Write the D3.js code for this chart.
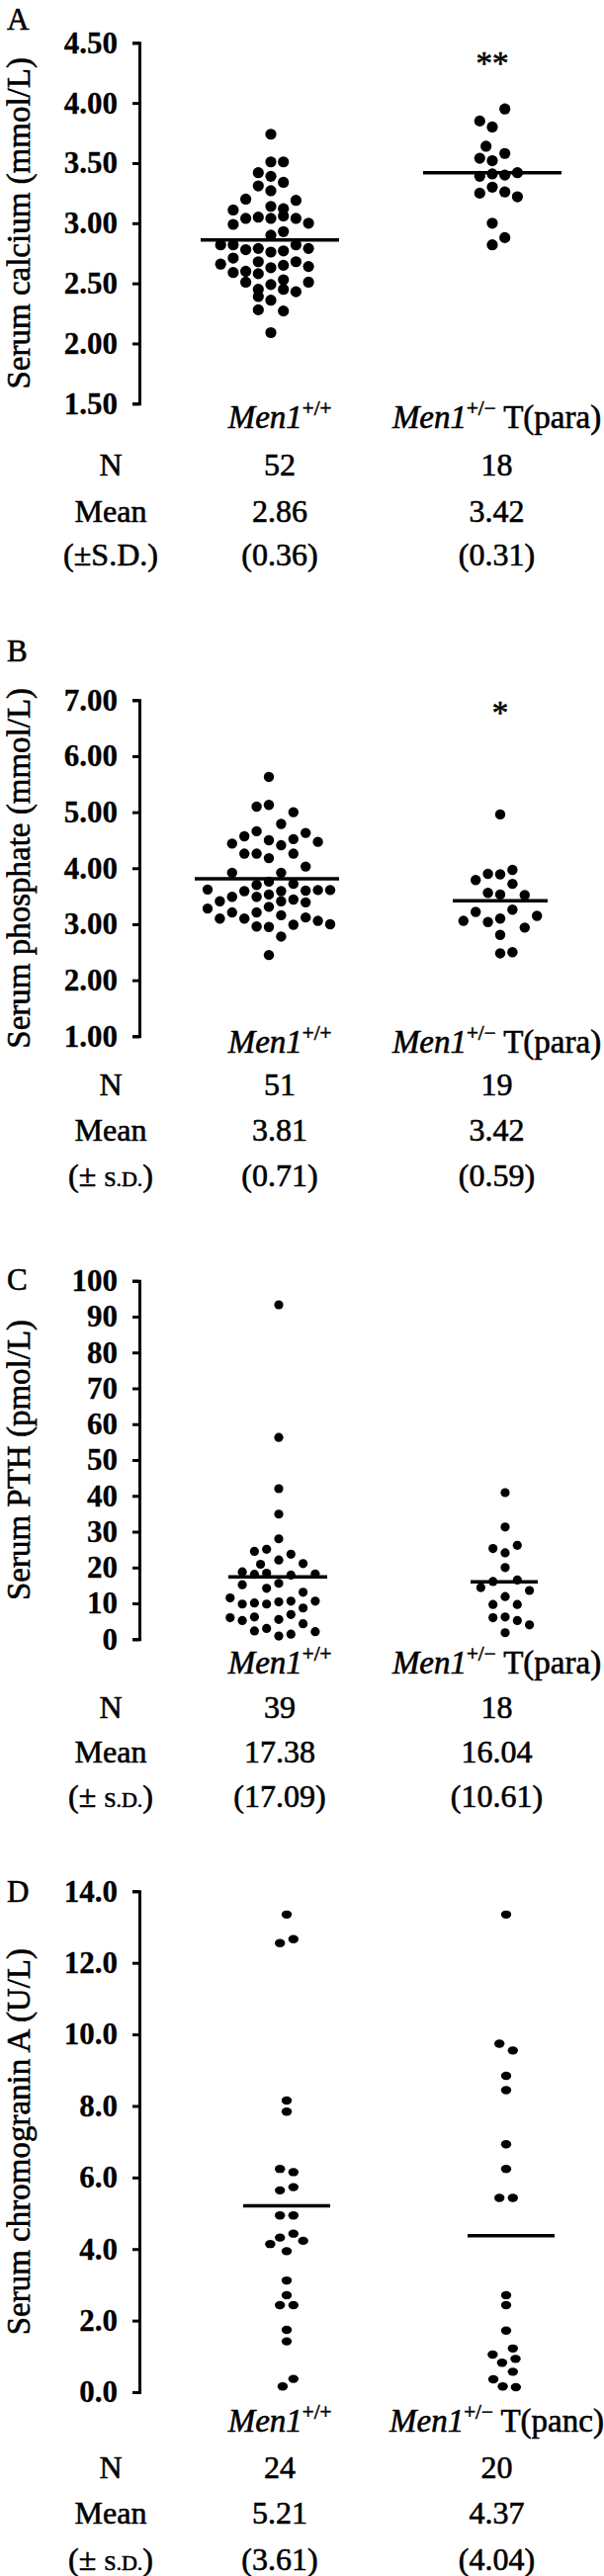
<!DOCTYPE html>
<html>
<head>
<meta charset="utf-8">
<script src="https://cdn.jsdelivr.net/npm/d3@7"></script>
<style>
  body { margin: 0; background: #fff; }
  svg text { font-family: "Liberation Serif", "Times New Roman", serif; fill: #000; stroke: #000; stroke-width: 0.6px; }
</style>
</head>
<body>
<script>
// each point: [value, lane in the dot swarm]
var calciumWT = [
  [3.74,0],[3.51,0],[3.51,1],[3.42,-1],[3.39,0],[3.34,1],[3.31,-1],[3.27,0],
  [3.20,-2],[3.19,2],[3.14,0],[3.12,1],[3.11,-3],
  [3.04,-2],[3.05,-1],[3.04,0],[3.06,1],[3.04,2],[2.99,-3],[3.00,3],
  [2.93,1],[2.90,0],
  [2.82,-4],[2.82,-3],[2.82,2],[2.78,-2],[2.79,-1],[2.77,1],[2.79,3],[2.76,0],
  [2.71,-3],[2.68,-1],[2.68,2],[2.66,-4],[2.63,0],[2.65,1],[2.64,3],
  [2.59,-3],[2.60,-2],[2.58,-1],[2.53,1],[2.51,3],[2.51,-2],[2.49,0],
  [2.45,-1],[2.45,1],[2.43,2],[2.39,-1],[2.36,0],[2.28,-1],[2.27,1],[2.09,0]
];
var calciumHet = [
  [3.95,1],[3.85,-1],[3.80,0],[3.64,-0.5],[3.58,1],[3.54,-1],[3.52,0],[3.39,-1],[3.41,0],
  [3.40,1],[3.42,2],[3.30,0],[3.25,-1],[3.26,1],[3.22,2],[3.00,0],[2.88,1],[2.82,0]
];
var phosphateWT = [
  [5.63,0],[5.10,-1],[5.13,0],[5.00,2],[4.79,1],[4.66,-1],[4.63,3],[4.57,-2],
  [4.50,0],[4.52,2],[4.44,-3],[4.41,1],[4.47,4],[4.26,-2],[4.26,-1],[4.26,2],
  [4.18,0],[4.03,3],[3.92,-3],[3.92,1],[3.76,0],[3.72,2],[3.62,-5],[3.59,-2],
  [3.59,1],[3.60,3],[3.61,4],[3.61,5],[3.53,0],[3.49,-1],[3.49,-3],[3.41,-4],
  [3.41,1],[3.44,2],[3.39,3],[3.28,-5],[3.31,0],[3.21,-1],[3.21,-3],[3.16,1],
  [3.10,-4],[3.10,-2],[3.12,3],[3.06,4],[2.99,2],[3.00,5],[2.96,-1],[2.95,0],
  [2.78,1],[2.45,0],[3.70,-1]
];
var phosphateHet = [
  [4.96,0],[3.97,1],[3.90,-1],[3.89,0],[3.79,-2],[3.72,1],[3.56,-1],[3.53,0],[3.52,2],
  [3.26,1],[3.22,-2],[3.15,3],[3.06,-3],[3.04,-1],[3.10,0],[2.94,2],[2.81,0],[2.48,0],[2.50,1]
];
var pthWT = [
  [93.3,0],[56.3,0],[42.0,0],[34.9,0],[28.0,0],[24.5,-2],[25.1,-1],[23.7,1],
  [22.1,0],[21.1,2],[20.9,-1.5],[18.8,-3],[18.1,-2],[18.4,-1],[17.9,1],[18.2,3],
  [15.6,0],[15.2,-3],[14.2,-1],[13.1,2],[11.5,-4],[10.6,3],[9.8,-3],[10.1,-2],
  [9.8,-1],[10.4,0],[10.6,1],[8.7,2],[6.0,-4],[5.2,-3],[6.2,-2],[6.9,1],
  [5.5,0],[4.3,2],[2.3,-2],[3.0,-1],[2.1,3],[0.9,0],[1.4,1]
];
var pthHet = [
  [40.9,0],[31.3,0],[25.3,-1],[26.2,1],[24.1,0],[20.0,0],[16.1,-1],[16.5,1],[14.4,-2],
  [13.6,2],[11.9,0],[9.7,-1],[9.7,1],[6.0,-1],[6.2,0],[5.2,1],[4.0,2],[1.8,0]
];
var cgaWT = [
  [13.35,0],[12.55,-1],[12.66,1],[8.15,0],[7.84,0],[6.24,-1],[6.15,1],[5.64,-1],
  [5.73,1],[4.94,-1],[4.94,1],[4.32,-1],[4.43,1],[4.14,-2.45],[4.23,2.45],[3.94,0],
  [3.12,0],[2.71,0],[2.43,-1],[2.43,1],[1.74,0],[1.42,0],[0.37,1],[0.16,-0.6]
];
var cgaHet = [
  [13.35,0],[9.74,-1],[9.55,1],[8.84,0],[8.44,0],[6.93,0],[6.24,0],[5.43,-1],[5.43,1],
  [2.71,0],[2.43,0],[1.72,0],[1.22,1],[1.05,-2],[0.93,1.4],[0.82,-0.6],[0.57,1],
  [0.36,-1.9],[0.16,-0.5],[0.14,1.45]
];

var calciumTicks = [1.5, 2, 2.5, 3, 3.5, 4, 4.5];
var phosphateTicks = [1, 2, 3, 4, 5, 6, 7];
var pthTicks = [0, 10, 20, 30, 40, 50, 60, 70, 80, 90, 100];
var cgaTicks = [0, 2, 4, 6, 8, 10, 12, 14];

var calciumN = [52, 18], calciumMean = [2.86, 3.42], calciumSD = [0.36, 0.31];
var phosphateN = [51, 19], phosphateMean = [3.81, 3.42], phosphateSD = [0.71, 0.59];
var pthN = [39, 18], pthMean = [17.38, 16.04], pthSD = [17.09, 10.61];
var cgaN = [24, 20], cgaMean = [5.21, 4.37], cgaSD = [3.61, 4.04];

var groups = ["wt", "het"];

var panels = [
  {letter: "A", title: "Serum calcium (mmol/L)", wt: calciumWT, het: calciumHet, ticks: calciumTicks, fmt: ".2f",
   n: calciumN, mean: calciumMean, sd: calciumSD, tumour: "T(para)", sig: "**", sdPlain: true,
   top: 43.3, bottom: 408.3, centers: [274, 498], lineCenters: [273, 498], halfLine: [70, 70],
   lane: 12.7, rx: 5.6, ry: 5.6, letterY: 30, rows: [433, 481, 528, 572], sigY: 75},
  {letter: "B", title: "Serum phosphate (mmol/L)", wt: phosphateWT, het: phosphateHet, ticks: phosphateTicks, fmt: ".2f",
   n: phosphateN, mean: phosphateMean, sd: phosphateSD, tumour: "T(para)", sig: "*", sdPlain: false,
   top: 708.3, bottom: 1048.3, centers: [272, 506], lineCenters: [270, 506], halfLine: [73, 48],
   lane: 12.4, rx: 5.2, ry: 5.2, letterY: 669, rows: [1065, 1108, 1154, 1200], sigY: 732},
  {letter: "C", title: "Serum PTH (pmol/L)", wt: pthWT, het: pthHet, ticks: pthTicks, fmt: "d",
   n: pthN, mean: pthMean, sd: pthSD, tumour: "T(para)", sig: "", sdPlain: false,
   top: 1295.7, bottom: 1658.3, centers: [282, 511], lineCenters: [281, 510], halfLine: [50, 34],
   lane: 12.3, rx: 4.6, ry: 4.6, letterY: 1305, rows: [1693, 1738, 1783, 1828], sigY: 0},
  {letter: "D", title: "Serum chromogranin A (U/L)", wt: cgaWT, het: cgaHet, ticks: cgaTicks, fmt: ".1f",
   n: cgaN, mean: cgaMean, sd: cgaSD, tumour: "T(panc)", sig: "", sdPlain: false,
   top: 1913.3, bottom: 2420, centers: [290, 512], lineCenters: [290, 517], halfLine: [44, 44],
   lane: 6.8, rx: 5.2, ry: 4.2, letterY: 1924, rows: [2460, 2507, 2553, 2600], sigY: 0}
];

var W = 611, H = 2606;
var axisX = 141;
var cols = [112, 283, 502.5];

var svg = d3.select("body").append("svg").attr("width", W).attr("height", H);

panels.forEach(function (p) {
  var g = svg.append("g");
  var y = d3.scaleLinear().domain(d3.extent(p.ticks)).range([p.bottom, p.top]);
  var x = d3.scaleOrdinal().domain(groups).range(p.centers);
  var lineX = d3.scaleOrdinal().domain(groups).range(p.lineCenters);
  var lane = d3.scaleLinear().domain([0, 1]).range([0, p.lane]);

  // panel letter
  g.append("text").attr("x", 7).attr("y", p.letterY).attr("font-size", 31).text(p.letter);

  // y axis
  var axis = d3.axisLeft(y).tickValues(p.ticks).tickFormat(d3.format(p.fmt)).tickSize(7).tickPadding(15);
  var ax = g.append("g").attr("transform", "translate(" + axisX + ",0)").call(axis);
  ax.attr("font-family", null).attr("font-size", 31).attr("font-weight", "bold");
  ax.selectAll("path, line").attr("stroke", "#000").attr("stroke-width", 3);
  ax.selectAll("text").attr("fill", "#000").style("stroke-width", "0.3px");

  g.append("text")
    .attr("transform", "translate(30," + (p.top + p.bottom) / 2 + ") rotate(-90)")
    .attr("text-anchor", "middle").attr("font-size", 33).text(p.title);

  // dots
  groups.forEach(function (k) {
    g.selectAll(".dot-" + k).data(p[k]).join("ellipse")
      .attr("class", "dot-" + k)
      .attr("cx", function (d) { return x(k) + lane(d[1]); })
      .attr("cy", function (d) { return y(d[0]); })
      .attr("rx", p.rx).attr("ry", p.ry)
      .attr("fill", "#000");
  });

  // mean lines
  g.selectAll(".mean").data(groups).join("line")
    .attr("class", "mean")
    .attr("x1", function (k, i) { return lineX(k) - p.halfLine[i]; })
    .attr("x2", function (k, i) { return lineX(k) + p.halfLine[i]; })
    .attr("y1", function (k, i) { return y(p.mean[i]); })
    .attr("y2", function (k, i) { return y(p.mean[i]); })
    .attr("stroke", "#000").attr("stroke-width", 3.5);

  if (p.sig) {
    g.append("text").attr("x", x("het")).attr("y", p.sigY).attr("text-anchor", "middle")
      .attr("font-size", 33).text(p.sig);
  }

  // group labels
  [["+/+", ""], ["+/\u2212", p.tumour]].forEach(function (lab, i) {
    var t = g.append("text").attr("x", cols[i + 1]).attr("y", p.rows[0])
      .attr("text-anchor", "middle").attr("font-size", 33);
    t.append("tspan").attr("font-style", "italic").text("Men1");
    t.append("tspan").attr("font-size", 21).attr("dy", -13).text(lab[0]);
    if (lab[1]) t.append("tspan").attr("dy", 13).attr("font-size", 33).text(" " + lab[1]);
  });

  // stats table
  function cell(cx, cy, txt) {
    return g.append("text").attr("x", cx).attr("y", cy).attr("text-anchor", "middle")
      .attr("font-size", 32).text(txt);
  }
  cell(cols[0], p.rows[1], "N");
  cell(cols[0], p.rows[2], "Mean");
  if (p.sdPlain) {
    cell(cols[0], p.rows[3], "(\u00b1S.D.)");
  } else {
    var sdh = cell(cols[0], p.rows[3], "(\u00b1 ");
    sdh.append("tspan").attr("font-size", 22).text("S.D.");
    sdh.append("tspan").text(")");
  }
  [0, 1].forEach(function (i) {
    cell(cols[i + 1], p.rows[1], p.n[i]);
    cell(cols[i + 1], p.rows[2], p.mean[i].toFixed(2));
    cell(cols[i + 1], p.rows[3], "(" + p.sd[i].toFixed(2) + ")");
  });
});
</script>
</body>
</html>
